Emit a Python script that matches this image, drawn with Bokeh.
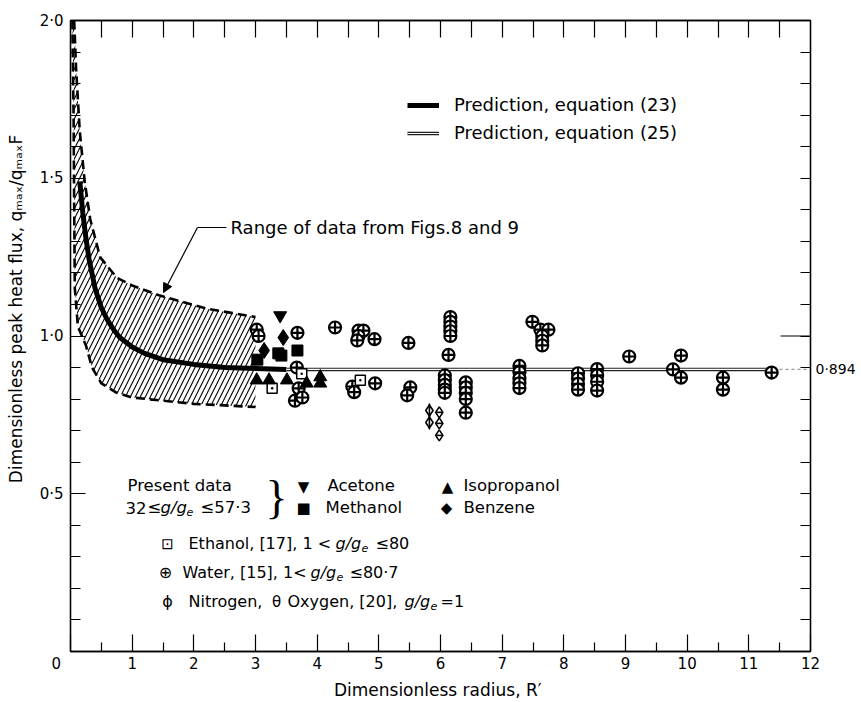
import numpy as np
from bokeh.plotting import figure
from bokeh.models import (LinearAxis, FixedTicker, CustomJSTickFormatter, Label,
                          Arrow, NormalHead, Range1d, Legend, LegendItem)
from bokeh.embed import file_html
from bokeh.resources import INLINE

FONT = "DejaVu Sans"
NB = "\u00a0"

# ---------------- data ----------------
x_major_ticks = list(range(0, 13))
x_minor_ticks = [i + 0.5 for i in range(12)]
x_top_ticks = [i * 0.5 for i in range(1, 24)]
y_major_ticks = [0.5, 1.0, 1.5, 2.0]
y_minor_ticks = [round(i * 0.1, 1) for i in range(1, 20)]
asymptote_value = [0.894]

# prediction, equation (23)
eq23_r = [0.15, 0.2, 0.25, 0.3, 0.4, 0.5, 0.6, 0.7, 0.8, 1.0, 1.2, 1.5, 2.0, 2.5, 3.0, 3.5]
eq23_q = [1.49, 1.39, 1.31, 1.245, 1.15, 1.09, 1.05, 1.02, 0.995, 0.965, 0.945, 0.925, 0.91, 0.90, 0.897, 0.894]
# prediction, equation (25)
eq25_r = [3.5, 11.4]
eq25_q = [0.894, 0.894]
eq25_tail_r = [11.4, 12.0]
eq25_tail_q = [0.894, 0.894]

# range of data from Figs. 8 and 9
upper_r = [0.06, 0.09, 0.15, 0.23, 0.32, 0.48, 0.75, 1.0, 1.45, 2.2, 3.0]
upper_q = [2.0, 1.85, 1.65, 1.49, 1.37, 1.25, 1.185, 1.16, 1.128, 1.087, 1.06]
lower_r = [0.03, 0.05, 0.06, 0.07, 0.12, 0.25, 0.35, 0.5, 0.75, 1.0, 1.5, 2.0, 2.5, 3.0]
lower_q = [2.0, 1.7, 1.4, 1.15, 1.03, 0.97, 0.9, 0.85, 0.82, 0.805, 0.795, 0.785, 0.78, 0.775]

water_r = [3.02, 3.05, 3.68, 3.67, 3.70, 3.64, 3.76, 4.29, 4.67, 4.75, 4.67, 4.65, 4.93, 4.94,
           4.57, 4.60, 5.48, 5.51, 5.46, 6.16, 6.16, 6.16, 6.16, 6.16, 6.13, 6.07, 6.07, 6.07,
           6.07, 6.07, 6.41, 6.41, 6.41, 6.41, 6.41, 7.49, 7.62, 7.75, 7.65, 7.65, 7.65, 7.28,
           7.28, 7.28, 7.28, 7.28, 8.23, 8.23, 8.23, 8.23, 8.54, 8.54, 8.54, 8.54, 9.06, 9.90,
           9.77, 9.90, 10.58, 10.58, 11.37]
water_q = [1.02, 1.00, 1.01, 0.90, 0.834, 0.795, 0.805, 1.027, 1.017, 1.017, 1.0, 0.986, 0.99, 0.85,
           0.84, 0.822, 0.978, 0.837, 0.812, 1.06, 1.045, 1.03, 1.015, 1.0, 0.94, 0.875, 0.86, 0.845,
           0.83, 0.82, 0.853, 0.837, 0.82, 0.80, 0.757, 1.045, 1.02, 1.02, 1.0, 0.985, 0.97, 0.905,
           0.885, 0.865, 0.85, 0.835, 0.882, 0.865, 0.848, 0.83, 0.895, 0.875, 0.855, 0.827, 0.935, 0.938,
           0.894, 0.868, 0.868, 0.83, 0.884]
ethanol_r = [3.27, 3.75, 4.70]
ethanol_q = [0.834, 0.88, 0.86]
acetone_r = [3.40]
acetone_q = [1.065]
methanol_r = [3.03, 3.37, 3.42, 3.68]
methanol_q = [0.925, 0.945, 0.938, 0.954]
isopropanol_r = [3.02, 3.22, 3.51, 3.83, 4.05, 4.05]
isopropanol_q = [0.86, 0.86, 0.86, 0.85, 0.87, 0.85]
benzene_r = [3.45, 3.14]
benzene_q = [0.995, 0.954]
nitrogen_r = [5.82, 5.82]
nitrogen_q = [0.764, 0.726]
oxygen_r = [5.98, 5.98, 5.98]
oxygen_q = [0.758, 0.723, 0.685]

# ---------------- figure ----------------
W, H = 858, 702
p = figure(width=W, height=H, x_range=Range1d(0, 12), y_range=Range1d(0, 2),
           output_backend="svg", toolbar_location=None,
           min_border_left=70, min_border_right=48, min_border_top=20, min_border_bottom=51)
p.grid.visible = False
p.outline_line_color = "black"
p.outline_line_width = 1.3
p.background_fill_color = "white"
p.border_fill_color = "white"

# canvas pixel -> data helpers (frame: x 70..810, y 20..651)
def dx(px):
    return (px - 70) / (740 / 12)

def dy(py):
    return (651 - py) / 315.5

# bottom axis
xa = p.xaxis[0]
xa.ticker = FixedTicker(ticks=x_major_ticks, minor_ticks=x_minor_ticks)
xa.formatter = CustomJSTickFormatter(
    code="return tick == 0 ? '0' + '\u00a0'.repeat(6) : tick.toFixed(0);")
xa.major_tick_in = 17
xa.major_tick_out = 0
xa.minor_tick_in = 9
xa.minor_tick_out = 0
xa.axis_line_width = 1.3
xa.major_tick_line_width = 1.2
xa.minor_tick_line_width = 1.2
xa.major_label_standoff = 3
xa.major_label_text_font = FONT
xa.major_label_text_font_size = "15px"
xa.major_label_text_color = "black"
xa.axis_label = "Dimensionless radius,  R\u2032"
xa.axis_label_text_font = FONT
xa.axis_label_text_font_size = "17px"
xa.axis_label_text_font_style = "normal"
xa.axis_label_text_color = "black"
xa.axis_label_standoff = 4

# left axis
ya = p.yaxis[0]
ya.ticker = FixedTicker(ticks=y_major_ticks, minor_ticks=y_minor_ticks)
ya.formatter = CustomJSTickFormatter(code="return tick.toFixed(1).replace('.', '\u00b7');")
ya.major_tick_in = 15
ya.major_tick_out = 0
ya.minor_tick_in = 10
ya.minor_tick_out = 0
ya.axis_line_width = 1.3
ya.major_tick_line_width = 1.2
ya.minor_tick_line_width = 1.2
ya.major_label_standoff = 7
ya.major_label_text_font = FONT
ya.major_label_text_font_size = "15px"
ya.major_label_text_color = "black"
ya.axis_label = (NB * 11 + "Dimensionless peak heat flux,  "
                 "q\u2098\u2090\u2093/q\u2098\u2090\u2093F")
ya.axis_label_text_font = FONT
ya.axis_label_text_font_size = "17px"
ya.axis_label_text_font_style = "normal"
ya.axis_label_text_color = "black"
ya.axis_label_standoff = 11

blank = CustomJSTickFormatter(code="return '';")
top = LinearAxis(ticker=FixedTicker(ticks=x_top_ticks), formatter=blank,
                 major_tick_in=17, major_tick_out=0, minor_tick_in=0, minor_tick_out=0,
                 axis_line_width=1.3, major_tick_line_width=1.2,
                 major_label_text_font_size="0px", major_label_standoff=0)
p.add_layout(top, "above")
right = LinearAxis(ticker=FixedTicker(ticks=asymptote_value, minor_ticks=y_minor_ticks),
                   formatter=CustomJSTickFormatter(code="return tick.toFixed(3).replace('.', '\u00b7');"),
                   major_tick_in=0, major_tick_out=0, minor_tick_in=10, minor_tick_out=0,
                   axis_line_width=1.3, minor_tick_line_width=1.2,
                   major_label_text_font=FONT, major_label_text_font_size="14px",
                   major_label_text_color="black", major_label_standoff=5)
p.add_layout(right, "right")
# longer inner tick at 1.0 on the right-hand edge
p.segment(x0=[12 - dx(100) + dx(70)], y0=[1.0], x1=[12], y1=[1.0], line_color="black", line_width=1.2)

# ---------------- range of data (hatched) ----------------
patch_x = upper_r + lower_r[::-1]
patch_y = upper_q + lower_q[::-1]
p.patch(patch_x, patch_y, fill_alpha=0, line_alpha=0, hatch_pattern="/",
        hatch_color="black", hatch_weight=1.1, hatch_scale=10)
p.line(upper_r, upper_q, line_color="black", line_width=2.6, line_dash="9 5")
p.line(lower_r, lower_q, line_color="black", line_width=2.6, line_dash="9 5")

# ---------------- prediction lines ----------------
r23 = p.line(eq23_r, eq23_q, line_color="black", line_width=5)
r25a = p.line(eq25_r, eq25_q, line_color="#222222", line_width=3.6)
r25b = p.line(eq25_r, eq25_q, line_color="white", line_width=1.2)
p.line(eq25_tail_r, eq25_tail_q, line_color="#999999", line_width=1.2, line_dash="3 3")

# ---------------- data points ----------------
p.scatter(water_r, water_q, marker="circle_cross", size=12, fill_color="white",
          line_color="black", line_width=2.2)
p.scatter(ethanol_r, ethanol_q, marker="square_dot", size=10, fill_color="white",
          line_color="black", line_width=1.5)
p.scatter(acetone_r, acetone_q, marker="inverted_triangle", size=13, color="black")
p.scatter(methanol_r, methanol_q, marker="square", size=11, color="black")
p.scatter(isopropanol_r, isopropanol_q, marker="triangle", size=13, color="black")
p.scatter(benzene_r, benzene_q, marker="diamond", size=16, color="black")
p.scatter(nitrogen_r, nitrogen_q, marker="diamond", size=11, fill_color="white",
          line_color="black", line_width=1.6)
p.scatter(nitrogen_r, nitrogen_q, marker="dash", size=14, angle=np.pi / 2,
          line_color="black", line_width=1.6)
p.scatter(oxygen_r, oxygen_q, marker="diamond", size=11, fill_color="white",
          line_color="black", line_width=1.6)
p.scatter(oxygen_r, oxygen_q, marker="dash", size=6, line_color="black", line_width=1.6)

# ---------------- top legend ----------------
legend = Legend(items=[LegendItem(label="Prediction, equation (23)", renderers=[r23]),
                       LegendItem(label="Prediction, equation (25)", renderers=[r25a, r25b])],
                location=(337, 508), padding=0, margin=0, spacing=7,
                glyph_width=32, glyph_height=20, label_height=20, label_standoff=15,
                label_text_font=FONT, label_text_font_size="18px", label_text_color="black",
                border_line_alpha=0, background_fill_alpha=0)
p.add_layout(legend)

# ---------------- annotations ----------------
def lab(px, py, text, size="16px", align="left", baseline="middle", style="normal"):
    """label placed inside the frame (data units derived from canvas pixels)"""
    p.add_layout(Label(x=dx(px), y=dy(py), text=text, text_font=FONT, text_font_size=size,
                       text_align=align, text_baseline=baseline,
                       text_font_style=style, text_color="black"))

lab(230, 227, "Range of data from Figs.8 and 9", size="18px")
p.add_layout(Arrow(end=None, x_start=dx(226), y_start=dy(227), x_end=dx(197), y_end=dy(227),
                   line_color="black", line_width=1.2))
p.add_layout(Arrow(end=NormalHead(size=9, fill_color="black", line_color="black"),
                   x_start=dx(197), y_start=dy(227), x_end=dx(163), y_end=dy(292),
                   line_color="black", line_width=1.2))

# lower legend
lab(127, 485, "Present data", size="16.5px")
lab(125, 507, "32", size="16.5px")
lab(147, 507, "\u2264", size="16.5px")
lab(160, 507, "g/g", size="16.5px", style="italic")
lab(186, 511, "e", size="11px", style="italic")
lab(200, 507, "\u226457\u00b73", size="16.5px")
p.add_layout(Label(x=dx(276), y=dy(497), text="}", text_font="Liberation Serif",
                   text_font_size="46px", text_align="center", text_baseline="middle",
                   text_color="black"))
lab(303, 486, "\u25bc", size="15px", align="center")
lab(327, 485, "Acetone", size="16.5px")
lab(303, 507, "\u25a0", size="15px", align="center")
lab(325, 507, "Methanol", size="16.5px")
lab(447, 486, "\u25b2", size="15px", align="center")
lab(463, 485, "Isopropanol", size="16.5px")
lab(446, 507, "\u25c6", size="15px", align="center")
lab(463, 507, "Benzene", size="16.5px")

lab(167, 543, "\u22a1", size="15px", align="center")
lab(188, 543, "Ethanol, [17], 1 <")
lab(335, 543, "g/g", style="italic")
lab(361, 547, "e", size="11px", style="italic")
lab(375, 543, "\u226480")

lab(165, 572, "\u2295", size="16px", align="center")
lab(182, 572, "Water, [15], 1<")
lab(310, 572, "g/g", style="italic")
lab(336, 576, "e", size="11px", style="italic")
lab(349, 572, "\u226480\u00b77")

lab(167, 601, "\u0278", size="16px", align="center")
lab(188, 601, "Nitrogen,")
lab(276, 601, "\u03b8", size="15px", align="center")
lab(287, 601, "Oxygen, [20],")
lab(404, 601, "g/g", style="italic")
lab(430, 605, "e", size="11px", style="italic")
lab(440, 601, " =1")

open("out.html", "w").write(file_html(p, INLINE))
